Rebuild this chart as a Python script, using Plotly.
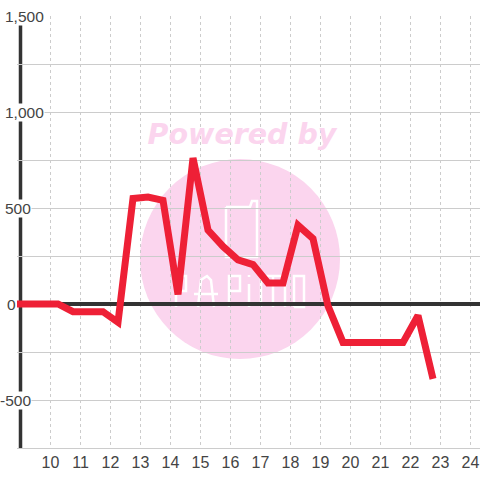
import plotly.graph_objects as go

hours = [8.88, 9.25, 9.75, 10.25, 10.75, 11.25, 11.75, 12.25, 12.75, 13.25, 13.75, 14.25, 14.75,
         15.25, 15.75, 16.25, 16.75, 17.25, 17.75, 18.25, 18.75, 19.25, 19.75, 20.25, 20.75,
         21.25, 21.75, 22.25, 22.75]
values = [0, 0, 0, 0, -40, -40, -40, -95, 550, 557, 540, 50, 760,
          385, 300, 230, 205, 110, 110, 410, 340, -10, -200, -200, -200,
          -200, -200, -60, -390]
x_ticks = list(range(10, 25))
y_grid = [-750, -500, -250, 0, 250, 500, 750, 1000, 1250, 1500]
y_labels = [(1500, "1,500"), (1000, "1,000"), (500, "500"), (0, "0"), (-500, "-500")]

W, H = 480, 480
L, R, T, B = 17, 0, 16, 32
x_range = [10 - (50.5 - L) / 30, 10 + (480 - 50.5) / 30]
y_range = [-750, 1500]
GRID = "#cccccc"
DARK = "#333333"
PINK = "#fbd5ee"
LABEL = "#444444"
LABEL_SIZE = 15.5


def px(p):
    return 10 + (p - 50.5) / 30


def py(p):
    return (304 - p) * 500 / 96


def path(points, close=False):
    s = " ".join(("M" if i == 0 else "L") + f"{px(a)},{py(b)}" for i, (a, b) in enumerate(points))
    return s + (" Z" if close else "")


fig = go.Figure()

# Watermark heading, beneath the data line
fig.add_trace(go.Scatter(x=[px(242)], y=[py(137)], mode="text", text=["Powered by"],
                         textfont=dict(family="DejaVu Sans", size=28.5, color=PINK, weight="bold", style="italic"),
                         hoverinfo="skip", showlegend=False))

fig.add_trace(go.Scatter(x=hours, y=values, mode="lines",
                         line=dict(color="#ee2036", width=7),
                         hoverinfo="skip", showlegend=False))

logo_strokes = [
    [(226, 207), (250, 207), (252, 201), (257, 201), (257, 257), (226, 257), (226, 207)],
    [(176, 307), (176, 276), (186, 276), (186, 291), (176, 291)],
    [(198, 307), (201, 280), (207, 276), (211, 280), (214, 307)],
    [(194, 294), (218, 294)],
    [(229, 307), (229, 276), (240, 276), (240, 291), (229, 291)],
    [(249, 307), (249, 284)],
    [(249, 277), (249, 275)],
    [(261, 307), (261, 276), (285, 276), (285, 307)],
    [(273, 276), (273, 307)],
    [(294, 307), (294, 276), (304, 276), (304, 307), (294, 307)],
]

shapes = [
    dict(type="circle", xref="x", yref="y", layer="below",
         x0=px(140), x1=px(340), y0=py(359), y1=py(159), fillcolor=PINK, line_width=0),
]
for stroke in logo_strokes:
    shapes.append(dict(type="path", xref="x", yref="y", layer="below", path=path(stroke),
                       line=dict(color="white", width=2.5), fillcolor="rgba(0,0,0,0)"))
shapes += [
    dict(type="rect", xref="x", yref="paper", layer="between",
         x0=x_range[0], x1=px(19), y0=0, y1=1, fillcolor="white", line_width=0),
    dict(type="line", xref="x", yref="paper", layer="between",
         x0=9, x1=9, y0=0, y1=1, line=dict(color=DARK, width=3.5)),
]

right_edge = {"1,500": 45, "1,000": 45, "500": 32, "0": 16.5, "-500": 32}
annotations = [
    dict(xref="paper", yref="y", x=(right_edge[t] - L) / (W - L - R), y=v, text=t, showarrow=False,
         xanchor="right", yanchor="middle", bgcolor="white", borderpad=0,
         font=dict(family="Liberation Sans", size=LABEL_SIZE, color=LABEL))
    for v, t in y_labels
]

fig.update_layout(
    width=W, height=H, margin=dict(l=L, r=R, t=T, b=B),
    paper_bgcolor="white", plot_bgcolor="rgba(0,0,0,0)",
    shapes=shapes, annotations=annotations,
    xaxis=dict(range=x_range, tickvals=x_ticks, ticks="", showgrid=True, gridcolor=GRID, gridwidth=1,
               griddash="3px,3px", zeroline=False, showline=True, linecolor=GRID, linewidth=1,
               tickfont=dict(family="Liberation Sans", size=16, color=LABEL)),
    yaxis=dict(range=y_range, tickvals=y_grid, showticklabels=False, ticks="", showgrid=True,
               gridcolor=GRID, gridwidth=1, zeroline=True, zerolinecolor=DARK, zerolinewidth=4,
               showline=False),
)

fig.write_html("out.html", config={"displayModeBar": False},
               post_script="document.body.style.margin='0';")
